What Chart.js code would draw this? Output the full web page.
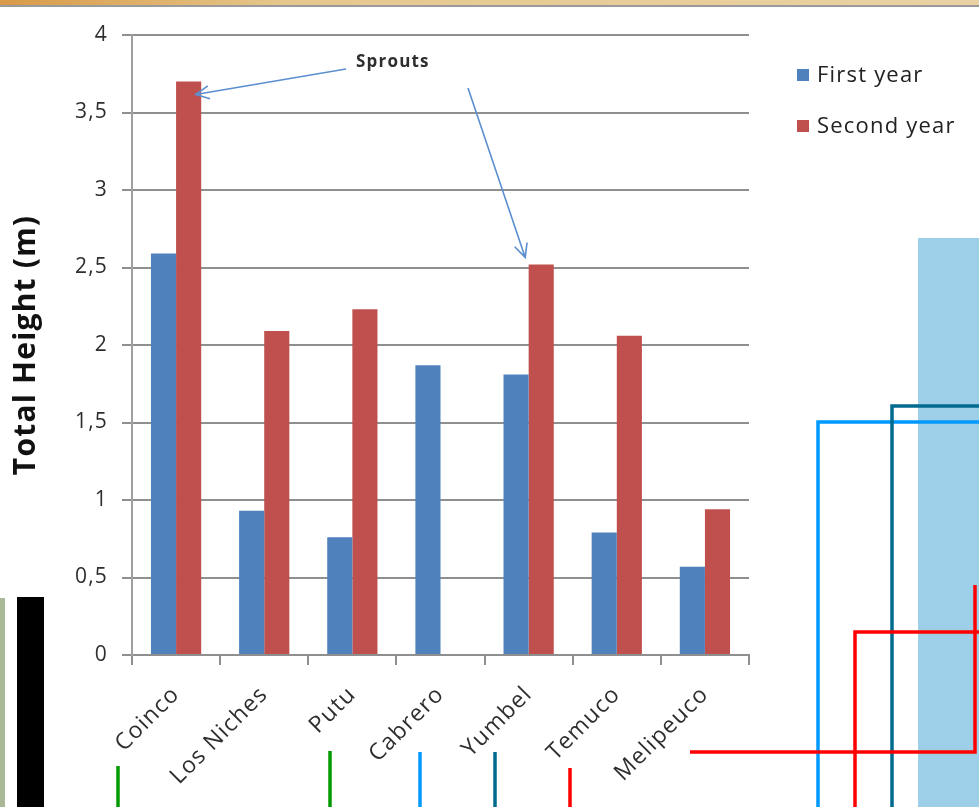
<!DOCTYPE html>
<html>
<head>
<meta charset="utf-8">
<script src="https://cdn.jsdelivr.net/npm/chart.js@4.4.1/dist/chart.umd.min.js"></script>
<style>
  html, body { margin: 0; padding: 0; background: #fff; }
  #wrap { position: relative; width: 979px; height: 807px; }
</style>
</head>
<body>
<div id="wrap"><canvas id="heights" width="979" height="807"></canvas></div>
<script>
const sites = ['Coinco', 'Los Niches', 'Putu', 'Cabrero', 'Yumbel', 'Temuco', 'Melipeuco'];
const firstYear = [2.59, 0.93, 0.76, 1.87, 1.81, 0.79, 0.57];
const secondYear = [3.70, 2.09, 2.23, null, 2.52, 2.06, 0.94];
const yTickLabels = ['0', '0,5', '1', '1,5', '2', '2,5', '3', '3,5', '4'];

const BLUE = '#4f81bd';
const RED = '#c0504d';
const GRID = '#8f8f8f';
const TEXT = '#2e2e2e';
const FONT = "'Open Sans', 'DejaVu Sans', sans-serif";

// slightly airy lettering everywhere on the canvas
const spacing = {
    id: 'spacing',
    beforeDraw(chart) {
        chart.ctx.letterSpacing = '1.2px';
    },
};

// legend drawn off to the right of the plot, like the slide it came from
const sideLegend = {
    id: 'sideLegend',
    afterDraw(chart) {
        const ctx = chart.ctx;
        const rows = [75, 126];
        ctx.save();
        ctx.font = `22px ${FONT}`;
        ctx.textBaseline = 'middle';
        chart.data.datasets.forEach((ds, i) => {
            ctx.fillStyle = ds.backgroundColor;
            ctx.fillRect(797, rows[i] - 6, 12, 12);
            ctx.fillStyle = '#222';
            ctx.fillText(ds.label, 817, rows[i] + 1);
        });
        ctx.restore();
    },
};

function arrow(ctx, x1, y1, x2, y2) {
    const a = Math.atan2(y2 - y1, x2 - x1);
    const head = 15;
    ctx.beginPath();
    ctx.moveTo(x1, y1);
    ctx.lineTo(x2, y2);
    ctx.moveTo(x2 - head * Math.cos(a - 0.45), y2 - head * Math.sin(a - 0.45));
    ctx.lineTo(x2, y2);
    ctx.lineTo(x2 - head * Math.cos(a + 0.45), y2 - head * Math.sin(a + 0.45));
    ctx.stroke();
}

// "Sprouts" callout pointing at the second-year bars of Coinco and Yumbel
const sproutsNote = {
    id: 'sproutsNote',
    afterDatasetsDraw(chart) {
        const ctx = chart.ctx;
        const bars = chart.getDatasetMeta(1).data;
        const coinco = bars[0];
        const yumbel = bars[4];
        ctx.save();
        ctx.font = `bold 17px ${FONT}`;
        ctx.fillStyle = TEXT;
        ctx.textBaseline = 'middle';
        ctx.fillText('Sprouts', 356, 62);
        ctx.strokeStyle = '#5b8fd0';
        ctx.lineWidth = 1.6;
        arrow(ctx, 346, 69, coinco.x + 7, coinco.y + 13);
        arrow(ctx, 468, 88, yumbel.x - 16, yumbel.y - 7);
        ctx.restore();
    },
};

// slide furniture around the chart
const slideFrame = {
    id: 'slideFrame',
    afterDraw(chart) {
        const ctx = chart.ctx;
        ctx.save();
        const g = ctx.createLinearGradient(0, 0, 979, 0);
        g.addColorStop(0, '#d89a48');
        g.addColorStop(0.3, '#e6c88e');
        g.addColorStop(1, '#ead2a4');
        ctx.fillStyle = g;
        ctx.fillRect(0, 0, 979, 5);
        ctx.fillStyle = '#9a9a9a';
        ctx.fillRect(0, 5, 979, 2);

        ctx.fillStyle = '#a9b896';
        ctx.fillRect(0, 598, 5, 209);
        ctx.fillStyle = '#000';
        ctx.fillRect(17, 597, 27, 210);

        ctx.fillStyle = '#9ecfe8';
        ctx.fillRect(918, 238, 61, 569);

        const line = (color, pts) => {
            ctx.strokeStyle = color;
            ctx.lineWidth = 3.5;
            ctx.beginPath();
            ctx.moveTo(pts[0][0], pts[0][1]);
            pts.slice(1).forEach((p) => ctx.lineTo(p[0], p[1]));
            ctx.stroke();
        };
        line('#009a00', [[118, 766], [118, 807]]);
        line('#009a00', [[330, 751], [330, 807]]);
        line('#0099ff', [[420, 752], [420, 807]]);
        line('#006b8f', [[495, 752], [495, 807]]);
        line('#ff0000', [[570, 768], [570, 807]]);
        line('#0099ff', [[818, 807], [818, 422], [979, 422]]);
        line('#006b8f', [[892, 807], [892, 406], [979, 406]]);
        line('#ff0000', [[855, 807], [855, 632], [979, 632]]);
        line('#ff0000', [[690, 752], [975, 752], [975, 585]]);
        ctx.restore();
    },
};

new Chart(document.getElementById('heights'), {
    type: 'bar',
    data: {
        labels: sites,
        datasets: [
            { label: 'First year', data: firstYear, backgroundColor: BLUE },
            { label: 'Second year', data: secondYear, backgroundColor: RED },
        ],
    },
    options: {
        responsive: false,
        animation: false,
        events: [],
        layout: { padding: { top: 35, right: 230, left: 0, bottom: 0 } },
        datasets: { bar: { categoryPercentage: 0.57, barPercentage: 1 } },
        plugins: { legend: { display: false }, tooltip: { enabled: false } },
        scales: {
            x: {
                afterFit: (s) => { s.height = 152; },
                grid: { drawOnChartArea: false, offset: true, tickLength: 10, color: GRID, lineWidth: 2 },
                border: { color: GRID, width: 2 },
                ticks: {
                    autoSkip: false,
                    maxRotation: 45,
                    minRotation: 45,
                    padding: 16,
                    color: TEXT,
                    font: { family: FONT, size: 23 },
                },
            },
            y: {
                min: 0,
                max: 4,
                afterFit: (s) => { s.width = 132; },
                grid: { color: GRID, lineWidth: 2, tickLength: 10 },
                border: { color: '#a0a0a0', width: 2 },
                ticks: {
                    stepSize: 0.5,
                    padding: 14,
                    color: TEXT,
                    font: { family: FONT, size: 21 },
                    callback: (v, i) => yTickLabels[i],
                },
                title: {
                    display: true,
                    text: 'Total Height (m)',
                    color: '#111',
                    font: { family: FONT, size: 30, weight: 'bold' },
                    padding: { top: 8, bottom: 0 },
                },
            },
        },
    },
    plugins: [spacing, sproutsNote, sideLegend, slideFrame],
});
</script>
</body>
</html>
